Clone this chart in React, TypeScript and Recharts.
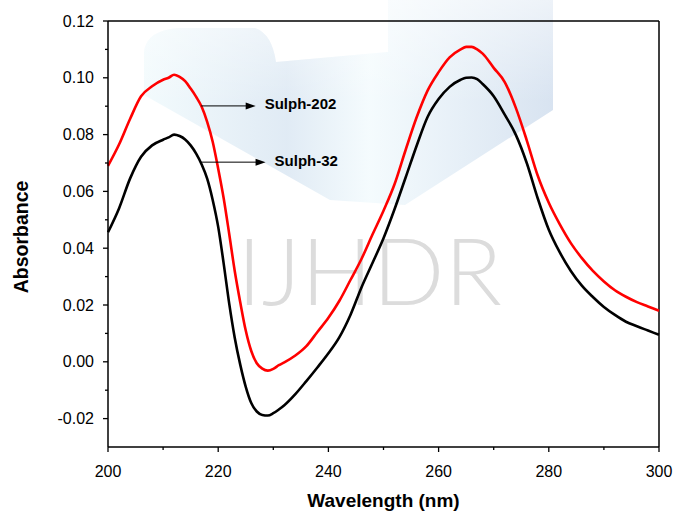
import { LineChart, Line, XAxis, YAxis, ReferenceLine } from "recharts";

// wavelength grid (nm) and absorbance
const WAVELENGTH = [
  200, 202, 204, 206, 208, 210, 211, 212, 213, 214, 215, 216, 217, 218, 219, 220, 221, 222, 223, 224, 225,
  226, 227, 228, 229, 230, 231, 232, 234, 236, 238, 240, 242, 244, 246, 248, 250, 252, 254, 256, 258, 260,
  262, 264, 265, 266, 267, 268, 270, 272, 274, 276, 278, 280, 282, 284, 286, 288, 290, 292, 294, 296, 298, 300,
];

const SULPH_32 = [
  0.0456, 0.054, 0.0645, 0.0722, 0.0762, 0.0782, 0.079, 0.08, 0.0795, 0.0783, 0.0762, 0.0733, 0.0695, 0.0645,
  0.057, 0.0475, 0.0345, 0.0205, 0.0085, -0.001, -0.0088, -0.0145, -0.0175, -0.0187, -0.0189, -0.0181, -0.0168,
  -0.0153, -0.0114, -0.0068, -0.002, 0.003, 0.0087, 0.0165, 0.0262, 0.0348, 0.0435, 0.0537, 0.0648, 0.076,
  0.0862, 0.0925, 0.0968, 0.0993, 0.1, 0.1001, 0.0995, 0.0978, 0.0935, 0.087, 0.08, 0.07, 0.0575, 0.0465,
  0.0385, 0.032, 0.0268, 0.0228, 0.0193, 0.0165, 0.0141, 0.0125, 0.011, 0.0095,
];

const SULPH_202 = [
  0.069, 0.0765, 0.0855, 0.0935, 0.097, 0.0993, 0.1, 0.1011, 0.1003, 0.0988, 0.0962, 0.0933, 0.0898, 0.0845,
  0.0775, 0.068, 0.0575, 0.045, 0.032, 0.021, 0.011, 0.0038, -0.0005, -0.0024, -0.0031, -0.0025, -0.0012,
  -0.0002, 0.0022, 0.0055, 0.0105, 0.0155, 0.0215, 0.0288, 0.0362, 0.0448, 0.0532, 0.0625, 0.0745, 0.086,
  0.0955, 0.102, 0.1072, 0.11, 0.1109, 0.1109, 0.11, 0.1085, 0.1035, 0.0985, 0.0895, 0.078, 0.0655, 0.056,
  0.0484, 0.0418, 0.0365, 0.032, 0.0283, 0.0252, 0.0229, 0.021, 0.0195, 0.018,
];

const X_TICKS = [200, 210, 220, 230, 240, 250, 260, 270, 280, 290, 300];
const X_MAJOR = [200, 220, 240, 260, 280, 300];
const Y_TICKS = [-0.02, -0.01, 0, 0.01, 0.02, 0.03, 0.04, 0.05, 0.06, 0.07, 0.08, 0.09, 0.1, 0.11, 0.12];
const Y_MAJOR = [-0.02, 0, 0.02, 0.04, 0.06, 0.08, 0.1, 0.12];

// arrow annotations: label, arrow start/end wavelength, absorbance level
const ANNOTATIONS = [
  { label: "Sulph-202", from: 216.9, to: 226.8, y: 0.0901 },
  { label: "Sulph-32", from: 216.9, to: 228.6, y: 0.0703 },
];

const FONT = "Arial, 'Liberation Sans', sans-serif";

const data = WAVELENGTH.map((w, i) => ({ w, s32: SULPH_32[i], s202: SULPH_202[i] }));

const YTick = ({ x, y, payload }: any) => {
  const major = Y_MAJOR.some((v) => Math.abs(v - payload.value) < 1e-9);
  return (
    <g>
      <line x1={x} y1={y} x2={x - (major ? 5 : 3)} y2={y} stroke="#000" strokeWidth={1.3} />
      {major && (
        <text x={x - 14} y={y} textAnchor="end" dominantBaseline="central" fontSize={16} fontFamily={FONT} fill="#000">
          {payload.value.toFixed(2)}
        </text>
      )}
    </g>
  );
};

const XTick = ({ x, y, payload }: any) => {
  const major = X_MAJOR.includes(payload.value);
  return (
    <g>
      <line x1={x} y1={y} x2={x} y2={y + (major ? 5 : 3)} stroke="#000" strokeWidth={1.3} />
      {major && (
        <text x={x} y={y + 24} textAnchor="middle" dominantBaseline="central" fontSize={16} fontFamily={FONT} fill="#000">
          {payload.value}
        </text>
      )}
    </g>
  );
};

const arrowShape = (label: string) => (props: any) => {
  const { x1, y1, x2 } = props;
  return (
    <g>
      <line x1={x1} y1={y1} x2={x2 - 8} y2={y1} stroke="#000" strokeWidth={1} />
      <polygon points={`${x2},${y1} ${x2 - 10},${y1 - 3.5} ${x2 - 10},${y1 + 3.5}`} fill="#000" />
      <text x={x2 + 9} y={y1 - 2} dominantBaseline="central" fontSize={15} fontWeight="bold" fontFamily={FONT} fill="#000">
        {label}
      </text>
    </g>
  );
};

const YTitle = ({ viewBox }: any) => (
  <text
    transform={`translate(${viewBox.x + 21},${viewBox.y + viewBox.height / 2 + 3}) rotate(-90)`}
    textAnchor="middle"
    dominantBaseline="central"
    fontSize={19.5}
    fontWeight="bold"
    fontFamily={FONT}
    fill="#000"
  >
    Absorbance
  </text>
);

const XTitle = ({ viewBox }: any) => (
  <text
    x={viewBox.x + viewBox.width / 2}
    y={viewBox.y + 60}
    textAnchor="middle"
    fontSize={19}
    fontWeight="bold"
    fontFamily={FONT}
    fill="#000"
  >
    Wavelength (nm)
  </text>
);

const Watermark = () => (
  <svg width={673} height={512} style={{ position: "absolute", left: 0, top: 0 }}>
    <defs>
      <linearGradient id="wm" x1="0" y1="0" x2="1" y2="0">
        <stop offset="0" stopColor="#eef9fc" />
        <stop offset="0.35" stopColor="#d6e4f1" />
        <stop offset="0.55" stopColor="#f1fafd" />
        <stop offset="1" stopColor="#cbdaec" />
      </linearGradient>
      <linearGradient id="fade" x1="0" y1="0" x2="0" y2="1">
        <stop offset="0" stopColor="#fff" stopOpacity={0.55} />
        <stop offset="0.5" stopColor="#fff" stopOpacity={0} />
      </linearGradient>
    </defs>
    <path
      d="M144,95 L144,52 Q146,30 180,28 L255,28 Q272,34 276,62 L388,52 L388,0 L553,0 L553,110 L405,205 L330,200 Z"
      fill="url(#wm)"
      opacity={0.75}
    />
    <path
      d="M144,95 L144,52 Q146,30 180,28 L255,28 Q272,34 276,62 L388,52 L388,0 L553,0 L553,110 L405,205 L330,200 Z"
      fill="url(#fade)"
    />
    <text x={237} y={305} fontSize={93} fontWeight={300} fontFamily="Lato, 'Open Sans', sans-serif" fill="#dcdcdc" textLength={265} lengthAdjust="spacingAndGlyphs">
      IJHDR
    </text>
  </svg>
);

export default function App() {
  return (
    <div style={{ position: "absolute", left: 0, top: 0, width: 673, height: 512, background: "#fff" }}>
      <Watermark />
      <div style={{ position: "absolute", left: 0, top: 0 }}>
        <LineChart width={673} height={512} data={data} margin={{ top: 21, right: 14, bottom: 24, left: 0 }}>
          <XAxis
            dataKey="w"
            type="number"
            domain={[200, 300]}
            ticks={X_TICKS}
            interval={0}
            tick={<XTick />}
            tickLine={false}
            tickSize={0}
            tickMargin={0}
            height={41}
            axisLine={{ stroke: "#000", strokeWidth: 1.5 }}
            label={<XTitle />}
          />
          <YAxis
            type="number"
            domain={[-0.03, 0.12]}
            ticks={Y_TICKS}
            interval={0}
            tick={<YTick />}
            tickLine={false}
            tickSize={0}
            tickMargin={0}
            width={108}
            axisLine={{ stroke: "#000", strokeWidth: 1.5 }}
            label={<YTitle />}
          />
          <ReferenceLine y={0.12} stroke="#000" strokeWidth={1.5} />
          <ReferenceLine x={300} stroke="#000" strokeWidth={1.5} />
          <Line type="monotone" dataKey="s32" stroke="#000" strokeWidth={2.6} dot={false} isAnimationActive={false} />
          <Line type="monotone" dataKey="s202" stroke="#ff0000" strokeWidth={2.6} dot={false} isAnimationActive={false} />
          {ANNOTATIONS.map((a) => (
            <ReferenceLine
              key={a.label}
              segment={[
                { x: a.from, y: a.y },
                { x: a.to, y: a.y },
              ]}
              shape={arrowShape(a.label)}
            />
          ))}
        </LineChart>
      </div>
    </div>
  );
}
